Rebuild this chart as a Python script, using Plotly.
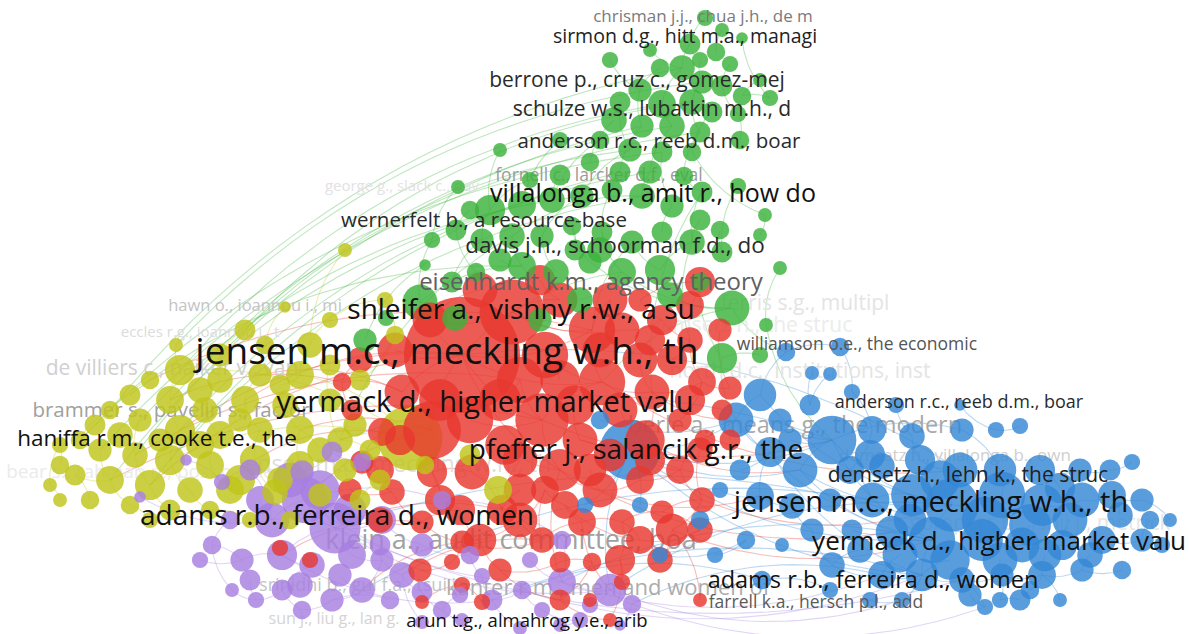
import numpy as np
import plotly.graph_objects as go

# ---- cluster colours ----
COLORS = {
    "g": "#3cb23c",
    "r": "#e8382f",
    "b": "#3588d6",
    "y": "#bfc41a",
    "p": "#a77fe0",
}

# ---- node layout (x, y, weight-based diameter) per cluster ----
GREEN_NODES = [
    (705, 18, 14), (722, 30, 12), (742, 38, 10), (690, 44, 18), (716, 52, 16),
    (730, 64, 14), (770, 98, 14), (660, 68, 16), (682, 68, 22), (702, 82, 20),
    (722, 86, 18), (742, 96, 16), (640, 90, 20), (662, 104, 24), (692, 102, 22),
    (712, 112, 18), (738, 114, 14), (620, 102, 18), (614, 120, 22), (642, 126, 20),
    (672, 126, 22), (700, 132, 18), (600, 140, 16), (630, 150, 20), (662, 152, 18),
    (692, 152, 16), (500, 150, 12), (560, 140, 14), (590, 162, 16), (620, 172, 18),
    (650, 172, 20), (684, 176, 16), (458, 187, 12), (490, 210, 26), (522, 205, 24),
    (552, 200, 22), (582, 196, 20), (612, 190, 18), (642, 196, 22), (672, 206, 20),
    (702, 192, 18), (738, 186, 14), (765, 215, 12), (425, 265, 10), (432, 240, 14),
    (456, 230, 18), (482, 240, 20), (512, 236, 22), (542, 236, 20), (572, 226, 16),
    (602, 232, 18), (632, 242, 20), (662, 232, 18), (692, 242, 22), (722, 252, 18),
    (522, 266, 24), (556, 272, 22), (590, 262, 20), (622, 272, 24), (660, 270, 26),
    (700, 282, 16), (452, 282, 18), (476, 272, 16), (420, 302, 30), (732, 308, 30),
    (766, 325, 12), (365, 340, 20), (386, 318, 14), (722, 358, 26),
    (610, 60, 14), (650, 50, 12), (700, 60, 14), (760, 80, 12), (740, 140, 16),
    (560, 175, 18), (530, 180, 14), (470, 210, 16), (500, 260, 20), (580, 300, 22),
    (670, 295, 22), (600, 250, 22), (575, 250, 18), (700, 220, 18), (720, 230, 16),
    (760, 235, 12), (780, 268, 12), (455, 318, 22), (540, 320, 20), (760, 355, 14),
]

RED_NODES = [
    (462, 355, 100), (512, 312, 56), (432, 430, 50), (592, 330, 40), (602, 382, 40),
    (542, 420, 46), (645, 440, 34), (622, 330, 30), (662, 320, 26), (690, 340, 22),
    (702, 382, 24), (730, 388, 20), (652, 392, 30), (560, 470, 36), (600, 490, 30),
    (640, 480, 24), (680, 470, 24), (702, 500, 22), (662, 512, 20), (622, 522, 22),
    (582, 522, 24), (542, 540, 22), (502, 510, 26), (472, 472, 30), (432, 472, 26),
    (382, 432, 24), (362, 462, 20), (392, 492, 22), (422, 522, 20), (462, 542, 20),
    (352, 410, 18), (342, 382, 16), (402, 392, 30), (700, 282, 26), (722, 410, 18),
    (560, 562, 18), (592, 562, 16), (622, 582, 14), (462, 585, 14), (422, 602, 12),
    (482, 602, 14), (452, 562, 14), (672, 530, 28), (560, 300, 30), (640, 300, 20),
    (520, 380, 40), (580, 440, 30), (680, 420, 20), (520, 460, 30), (620, 560, 26),
    (590, 600, 12), (280, 548, 14), (310, 560, 14), (705, 440, 18),
    (395, 350, 30), (430, 320, 30), (545, 355, 40), (575, 405, 34), (640, 360, 30),
    (672, 360, 26), (620, 410, 30), (505, 445, 34), (460, 510, 26), (520, 490, 28),
    (565, 505, 24), (610, 455, 28), (545, 490, 24), (700, 450, 22), (690, 305, 24),
    (720, 330, 20), (500, 570, 20), (660, 560, 22), (640, 540, 24), (700, 530, 22),
    (380, 470, 24), (350, 490, 20), (440, 400, 36), (610, 300, 30), (540, 280, 26),
    (480, 290, 30), (730, 440, 18), (360, 360, 22), (470, 420, 40), (520, 520, 30),
    (480, 540, 28), (560, 600, 18), (400, 440, 26), (440, 500, 26), (590, 470, 28),
    (650, 460, 26), (690, 400, 26), (500, 400, 36), (560, 380, 34), (600, 350, 30),
    (650, 340, 26), (380, 520, 22), (420, 570, 20), (610, 620, 12), (700, 600, 12),
]

BLUE_NODES = [
    (786, 352, 16), (840, 347, 16), (812, 373, 12), (830, 374, 12), (760, 395, 28),
    (736, 420, 30), (780, 420, 20), (810, 405, 18), (852, 392, 14), (896, 405, 14),
    (960, 405, 10), (832, 440, 42), (872, 430, 24), (912, 436, 22), (962, 430, 20),
    (996, 430, 14), (1020, 426, 14), (770, 452, 26), (800, 470, 30), (850, 470, 24),
    (882, 466, 22), (920, 460, 26), (960, 470, 30), (1000, 470, 28), (1040, 470, 26),
    (1080, 470, 20), (1110, 470, 18), (1132, 462, 14), (760, 496, 24), (792, 506, 22),
    (830, 500, 20), (872, 500, 30), (912, 495, 36), (952, 505, 46), (1002, 495, 40),
    (1042, 505, 36), (1082, 500, 30), (1112, 495, 24), (1142, 500, 20), (812, 530, 20),
    (852, 530, 18), (892, 532, 28), (932, 540, 40), (982, 540, 36), (1022, 545, 30),
    (1062, 545, 26), (1102, 540, 24), (1142, 540, 20), (1162, 545, 14), (746, 540, 16),
    (782, 545, 12), (832, 565, 22), (882, 575, 24), (922, 575, 28), (962, 580, 22),
    (1002, 575, 20), (1042, 575, 24), (1082, 570, 20), (1122, 570, 16), (762, 580, 16),
    (902, 600, 14), (1000, 600, 14), (1060, 600, 12), (660, 555, 14), (715, 555, 14),
    (585, 505, 14), (640, 505, 14), (630, 450, 52), (600, 420, 16), (1170, 520, 12),
    (985, 607, 14), (1030, 590, 16),
    (940, 480, 34), (985, 520, 40), (1030, 525, 36), (1070, 520, 30), (900, 555, 30),
    (950, 560, 34), (1000, 560, 30), (1045, 555, 28), (1090, 555, 22), (860, 550, 22),
    (970, 595, 20), (1020, 600, 18), (910, 520, 28), (1120, 515, 22), (1150, 520, 16),
    (870, 600, 14), (830, 590, 14), (700, 520, 16), (740, 470, 18), (790, 440, 20),
    (720, 490, 14), (870, 455, 26), (1060, 488, 26),
]

PURPLE_NODES = [
    (305, 500, 40), (335, 528, 44), (272, 520, 30), (250, 470, 18), (222, 482, 14),
    (186, 460, 10), (140, 497, 10), (212, 545, 16), (242, 560, 20), (282, 555, 26),
    (312, 565, 22), (282, 590, 18), (302, 610, 16), (332, 600, 20), (362, 590, 22),
    (352, 555, 24), (382, 560, 20), (402, 575, 22), (422, 592, 18), (442, 610, 16),
    (462, 620, 12), (492, 600, 18), (522, 590, 16), (542, 610, 14), (562, 582, 24),
    (580, 620, 14), (610, 590, 28), (632, 604, 16), (470, 555, 16), (562, 540, 16),
    (422, 545, 20), (442, 500, 16), (382, 520, 24), (256, 600, 14), (232, 590, 12),
    (332, 452, 18), (302, 472, 20), (362, 462, 16), (422, 622, 12), (482, 576, 14),
    (520, 628, 12),
    (290, 480, 30), (320, 490, 34), (260, 500, 24), (350, 510, 28), (230, 520, 16),
    (200, 560, 14), (250, 580, 18), (300, 585, 22), (340, 575, 20), (390, 600, 16),
    (460, 595, 14), (380, 545, 18), (530, 560, 14), (590, 605, 14), (560, 625, 12),
    (620, 625, 10),
]

YELLOW_NODES = [
    (345, 250, 12), (285, 307, 10), (245, 330, 18), (176, 345, 12), (220, 355, 20),
    (265, 345, 16), (310, 345, 22), (300, 375, 24), (260, 375, 20), (220, 380, 22),
    (180, 370, 26), (150, 380, 16), (130, 395, 18), (170, 400, 24), (205, 410, 22),
    (245, 400, 24), (285, 405, 22), (330, 400, 20), (110, 410, 16), (140, 420, 20),
    (180, 430, 26), (220, 435, 24), (260, 430, 22), (300, 430, 24), (340, 440, 22),
    (80, 440, 16), (60, 445, 14), (100, 450, 20), (135, 455, 22), (170, 460, 26),
    (210, 465, 24), (255, 460, 26), (300, 465, 24), (345, 470, 20), (50, 485, 12),
    (75, 475, 18), (110, 480, 24), (150, 485, 26), (190, 490, 22), (230, 490, 24),
    (275, 492, 22), (320, 495, 20), (360, 500, 18), (130, 505, 16), (170, 510, 18),
    (210, 510, 16), (498, 490, 24), (470, 455, 18), (425, 465, 16), (395, 335, 16),
    (385, 300, 14), (330, 320, 14), (410, 438, 56),
    (95, 425, 18), (60, 465, 16), (120, 435, 22), (200, 445, 24), (240, 480, 26),
    (280, 480, 22), (320, 450, 22), (355, 425, 20), (370, 450, 18), (380, 480, 18),
    (90, 500, 16), (150, 520, 14), (250, 520, 14), (290, 520, 16), (200, 390, 22),
    (240, 420, 20), (280, 385, 18), (330, 365, 18), (360, 380, 18), (160, 440, 20),
    (60, 500, 12),
]

NODES = {"g": GREEN_NODES, "r": RED_NODES, "b": BLUE_NODES,
         "p": PURPLE_NODES, "y": YELLOW_NODES}

# ---- links inside each cluster (index pairs) ----
GREEN_LINKS = [
    (3, 8), (8, 13), (13, 20), (20, 30), (30, 38), (38, 47), (47, 55), (55, 63),
    (12, 19), (19, 29), (29, 37), (37, 50), (50, 58), (58, 64), (7, 12), (9, 14),
    (14, 21), (21, 31), (31, 40), (40, 53), (53, 59), (17, 23), (23, 36), (36, 48),
    (48, 56), (26, 33), (33, 46), (46, 61), (0, 3), (5, 10), (10, 16), (6, 11),
    (27, 34), (22, 35), (24, 39), (39, 52), (41, 54), (2, 6), (18, 28), (1, 4),
    (44, 63), (45, 62), (32, 44), (15, 25), (25, 42), (57, 64), (60, 68), (49, 57),
    (51, 59), (43, 66), (69, 12), (70, 8), (71, 9), (72, 11), (73, 16), (74, 35),
    (75, 33), (76, 45), (77, 55), (78, 58), (79, 64), (80, 50), (81, 49), (82, 53),
    (83, 54), (84, 42), (85, 65), (86, 63), (87, 55), (88, 68),
]
RED_LINKS = [
    (0, 1), (0, 2), (0, 3), (0, 4), (0, 5), (0, 13), (1, 3), (1, 7), (3, 4), (4, 5),
    (5, 13), (13, 14), (14, 15), (15, 16), (16, 17), (17, 18), (18, 19), (19, 20),
    (20, 21), (21, 22), (22, 23), (23, 24), (24, 2), (2, 25), (25, 26), (26, 27),
    (27, 28), (28, 29), (29, 21), (6, 12), (12, 10), (10, 11), (7, 8), (8, 9),
    (9, 10), (4, 12), (6, 15), (45, 5), (46, 6), (48, 22), (49, 19), (42, 17),
    (0, 32), (32, 31), (31, 30), (43, 1), (44, 8), (33, 44), (36, 35), (37, 49),
    (38, 39), (40, 38), (41, 29), (47, 10), (53, 16),
    (54, 0), (55, 1), (56, 4), (57, 46), (58, 12), (59, 9), (60, 6), (61, 13),
    (62, 28), (63, 22), (64, 20), (65, 46), (66, 21), (67, 17), (68, 33), (69, 11),
    (70, 35), (71, 42), (72, 19), (73, 18), (74, 26), (75, 27), (76, 2), (77, 3),
    (78, 43), (79, 55), (80, 34), (81, 31), (82, 5), (83, 21), (84, 29), (85, 36),
    (86, 25), (87, 24), (88, 14), (89, 16), (90, 10), (91, 45), (92, 56), (93, 77),
    (94, 58), (95, 28), (96, 41), (97, 49), (98, 42), (24, 62), (62, 84), (84, 70),
    (70, 85), (85, 97), (29, 83), (83, 66), (66, 64), (64, 72), (72, 73), (73, 71),
]
BLUE_LINKS = [
    (11, 33), (11, 18), (18, 33), (33, 42), (42, 53), (33, 34), (34, 23), (23, 14),
    (14, 11), (32, 31), (31, 19), (19, 12), (12, 8), (8, 1), (1, 0), (0, 4), (4, 5),
    (5, 17), (17, 28), (28, 29), (29, 39), (39, 51), (51, 52), (52, 53), (53, 54),
    (54, 55), (55, 56), (56, 57), (57, 58), (44, 45), (45, 46), (46, 47), (35, 36),
    (36, 37), (37, 38), (24, 25), (25, 26), (26, 27), (21, 22), (22, 33), (13, 21),
    (9, 13), (10, 15), (15, 16), (41, 42), (43, 44), (40, 41), (2, 7), (3, 7),
    (6, 11), (60, 53), (61, 55), (62, 56), (67, 11), (67, 18), (67, 5), (65, 67),
    (66, 67), (63, 49), (64, 49), (68, 5), (69, 38), (70, 54), (71, 56),
    (72, 33), (73, 43), (74, 44), (75, 45), (76, 52), (77, 53), (78, 55), (79, 56),
    (80, 57), (81, 51), (82, 70), (83, 61), (84, 32), (85, 37), (86, 47), (87, 60),
    (88, 59), (89, 28), (90, 17), (91, 11), (92, 28), (93, 20), (94, 24),
    (11, 42), (18, 42), (4, 33), (5, 42), (17, 53), (67, 53), (67, 42),
]
PURPLE_LINKS = [
    (0, 1), (0, 2), (1, 2), (2, 3), (3, 4), (4, 5), (0, 36), (36, 35), (35, 37),
    (1, 15), (15, 16), (16, 17), (17, 18), (18, 19), (19, 20), (1, 9), (9, 10),
    (10, 11), (11, 12), (12, 13), (13, 14), (14, 16), (9, 8), (8, 7), (7, 34),
    (34, 33), (33, 11), (1, 32), (32, 30), (30, 28), (28, 39), (39, 21), (21, 22),
    (22, 23), (23, 25), (24, 26), (26, 27), (24, 29), (29, 31), (31, 0), (6, 2),
    (17, 38), (21, 40), (41, 3), (42, 1), (43, 2), (44, 32), (45, 7), (46, 8),
    (47, 33), (48, 11), (49, 14), (50, 13), (51, 19), (52, 16), (53, 24), (54, 26),
    (55, 25), (56, 27), (1, 26), (0, 24), (9, 21),
]
YELLOW_LINKS = [
    (0, 6), (1, 5), (2, 4), (3, 10), (4, 9), (5, 8), (6, 7), (7, 16), (8, 15),
    (9, 14), (10, 13), (11, 12), (12, 18), (13, 20), (14, 21), (15, 22), (16, 23),
    (17, 24), (18, 25), (19, 28), (20, 29), (21, 30), (22, 31), (23, 32), (24, 33),
    (25, 27), (26, 34), (27, 36), (28, 37), (29, 38), (30, 39), (31, 40), (32, 41),
    (33, 42), (35, 36), (36, 43), (37, 44), (38, 45), (52, 24), (52, 48), (47, 46),
    (49, 50), (50, 51), (51, 6), (52, 33), (53, 18), (54, 26), (55, 19), (56, 21),
    (57, 39), (58, 40), (59, 23), (60, 17), (61, 24), (62, 42), (63, 35), (64, 43),
    (65, 45), (66, 41), (67, 9), (68, 15), (69, 7), (70, 17), (71, 49), (72, 20),
    (73, 34), (52, 7), (52, 10), (52, 29),
]

# ---- links between clusters ----
CROSS_LINKS = [
    ("g", 13, "y", 10), ("g", 20, "y", 13), ("g", 30, "y", 20), ("g", 19, "y", 28),
    ("g", 23, "y", 4), ("g", 38, "y", 29), ("g", 34, "y", 36), ("g", 36, "y", 19),
    ("g", 47, "y", 24), ("g", 55, "y", 12), ("g", 14, "y", 2), ("g", 29, "y", 37),
    ("g", 24, "y", 25), ("g", 9, "y", 3), ("g", 8, "y", 18), ("g", 21, "y", 27),
    ("g", 58, "r", 0), ("g", 51, "r", 3), ("g", 63, "r", 0), ("g", 64, "r", 4),
    ("g", 53, "r", 9), ("g", 40, "r", 12),
    ("g", 64, "b", 0), ("g", 68, "b", 5), ("g", 65, "b", 11),
    ("r", 0, "y", 15), ("r", 2, "y", 23), ("r", 25, "y", 31), ("r", 32, "y", 8),
    ("r", 0, "y", 20), ("r", 45, "y", 28), ("r", 31, "y", 13), ("r", 0, "y", 37),
    ("r", 5, "y", 36), ("r", 3, "y", 11),
    ("r", 5, "b", 11), ("r", 6, "b", 18), ("r", 12, "b", 5), ("r", 14, "b", 28),
    ("r", 17, "b", 33), ("r", 42, "b", 42), ("r", 4, "b", 22), ("r", 13, "b", 41),
    ("r", 13, "p", 24), ("r", 20, "p", 26), ("r", 21, "p", 17), ("r", 29, "p", 14),
    ("r", 22, "p", 1), ("r", 2, "p", 0), ("r", 28, "p", 9),
    ("b", 67, "p", 26), ("b", 33, "p", 26), ("b", 42, "p", 24), ("b", 53, "p", 21),
    ("b", 31, "p", 14), ("b", 52, "p", 27), ("b", 11, "y", 24), ("b", 59, "p", 22),
    ("b", 43, "p", 1), ("b", 22, "r", 0),
    ("p", 26, "b", 60), ("p", 24, "b", 52), ("p", 27, "b", 70), ("p", 22, "b", 53),
    ("p", 1, "b", 54),
    ("y", 52, "r", 2), ("y", 46, "r", 22), ("y", 47, "r", 23), ("y", 33, "p", 0),
    ("y", 42, "p", 1),
]

# ---- item labels: text, centre x, centre y, font size, grey tone ----
LABEL_TEXT = [
    "chrisman j.j., chua j.h., de m", "sirmon d.g., hitt m.a., managi",
    "berrone p., cruz c., gomez-mej", "schulze w.s., lubatkin m.h., d",
    "anderson r.c., reeb d.m., boar", "fornell c., larcker d.f., eval",
    "george g., slack c., dav", "villalonga b., amit r., how do",
    "wernerfelt b., a resource-base", "davis j.h., schoorman f.d., do",
    "eisenhardt k.m., agency theory", "shleifer a., vishny r.w., a su",
    "hawn o., ioannou i., mi", "eccles r.g., ioannou i., t",
    "jensen m.c., meckling w.h., th", "de villiers c., naiker v., van",
    "williamson o.e., the economic", "ferris s.g., multipl",
    "demsetz h., the struc", "north d.c., institutions, inst",
    "yermack d., higher market valu", "brammer s., pavelin s., factor",
    "anderson r.c., reeb d.m., boar", "haniffa r.m., cooke t.e., the",
    "berle a., means g., the modern", "pfeffer j., salancik g.r., the",
    "demsetz h., villalonga b., own", "bear s., rahman n., post c., the",
    "jensen m.c., meckling w.h., th", "demsetz h., lehn k., the struc",
    "jensen m.c., meckling w.h., th", "adams r.b., ferreira d., women",
    "gompers p., ishii j., metrick", "yermack d., higher market valu",
    "klein a., audit committee, boa", "kanter r.m., men and women of",
    "srinidhi b., gul f.a., tsui j.", "adams r.b., ferreira d., women",
    "farrell k.a., hersch p.l., add", "sun j., liu g., lan g.",
    "arun t.g., almahrog y.e., arib",
]
LABEL_X = [
    703, 685, 637, 652, 659, 599, 402, 653, 484, 615,
    591, 521, 255, 200, 447, 172, 857, 805, 750, 800,
    485, 171, 959, 157, 795, 636, 955, 140, 395, 968,
    931, 337, 1040, 999, 511, 608, 360, 873, 816, 334,
    527,
]
LABEL_Y = [
    18, 38, 82, 111, 143, 177, 187, 196, 222, 247,
    284, 312, 307, 333, 355, 370, 346, 305, 327, 373,
    405, 412, 403, 440, 427, 452, 457, 473, 466, 477,
    505, 518, 525, 543, 542, 589, 586, 582, 604, 620,
    622,
]
LABEL_SIZE = [
    17, 19.5, 21, 21, 20.5, 17.5, 15, 25, 20.5, 22.5,
    24, 28, 16.5, 15, 37, 21, 17.5, 21, 21, 21,
    29, 20.5, 18, 22.5, 23.5, 28, 17, 19, 23, 21,
    29, 28, 21, 26, 27, 22, 18, 23.5, 17.5, 16,
    18.5,
]
LABEL_COLOR = [
    "#7a7a7a", "#222222", "#2a2a2a", "#2a2a2a", "#2a2a2a", "#9a9a9a", "#e2e2e2",
    "#111111", "#2a2a2a", "#2a2a2a", "#606060", "#111111", "#c4c4c4", "#dcdcdc",
    "#111111", "#d0d0d0", "#555555", "#e4e4e4", "#ececec", "#e4e4e4", "#111111",
    "#a0a0a0", "#2a2a2a", "#111111", "#a8a8a8", "#111111", "#cfcfcf", "#ebebeb",
    "#dedede", "#222222", "#111111", "#111111", "#e6e6e6", "#111111", "#a0a0a0",
    "#acacac", "#c4c4c4", "#111111", "#5a5a5a", "#d4d4d4", "#111111",
]

NODE_SCALE = 1.16
NODE_ALPHA = 0.82


def hex_rgba(h, a):
    h = h.lstrip("#")
    r, g, b = int(h[0:2], 16), int(h[2:4], 16), int(h[4:6], 16)
    return f"rgba({r},{g},{b},{a})"


def curve(p0, p1, bend=0.18, n=24):
    """Quadratic Bezier arc between two node centres."""
    p0 = np.asarray(p0, float)
    p1 = np.asarray(p1, float)
    d = p1 - p0
    ctrl = (p0 + p1) / 2 + bend * np.array([-d[1], d[0]])
    t = np.linspace(0, 1, n)[:, None]
    return (1 - t) ** 2 * p0 + 2 * (1 - t) * t * ctrl + t ** 2 * p1


def label_trace(idx):
    return go.Scatter(
        x=[LABEL_X[i] for i in idx], y=[LABEL_Y[i] for i in idx],
        text=[LABEL_TEXT[i] for i in idx], mode="text",
        textposition="middle center", hoverinfo="skip",
        textfont=dict(family="Open Sans",
                      size=[LABEL_SIZE[i] for i in idx],
                      color=[LABEL_COLOR[i] for i in idx]),
    )


fig = go.Figure()

# links, grouped by colour of the source cluster
link_sets = {k: [] for k in COLORS}
for key, links in (("g", GREEN_LINKS), ("r", RED_LINKS), ("b", BLUE_LINKS),
                   ("p", PURPLE_LINKS), ("y", YELLOW_LINKS)):
    for i, j in links:
        link_sets[key].append((NODES[key][i][:2], NODES[key][j][:2]))
for ca, i, cb, j in CROSS_LINKS:
    link_sets[ca].append((NODES[ca][i][:2], NODES[cb][j][:2]))

for key in ("y", "p", "b", "r", "g"):
    xs, ys = [], []
    for a, b in link_sets[key]:
        pts = curve(a, b)
        xs.extend(pts[:, 0].tolist() + [None])
        ys.extend(pts[:, 1].tolist() + [None])
    fig.add_trace(go.Scatter(
        x=xs, y=ys, mode="lines", hoverinfo="skip",
        line=dict(color=hex_rgba(COLORS[key], 0.33), width=1.1),
    ))

# pale (less cited) labels sit beneath the circles, darker ones above
dark = [i for i, c in enumerate(LABEL_COLOR) if int(c[1:3], 16) < 0x80]
pale = [i for i in range(len(LABEL_TEXT)) if i not in dark]
fig.add_trace(label_trace(pale))

# nodes: larger circles first so small ones stay visible on top
all_nodes = []
for key, nodes in NODES.items():
    for x, y, s in nodes:
        all_nodes.append((s, x, y, COLORS[key]))
all_nodes.sort(key=lambda n: -n[0])

fig.add_trace(go.Scatter(
    x=[n[1] for n in all_nodes],
    y=[n[2] for n in all_nodes],
    mode="markers",
    hoverinfo="skip",
    marker=dict(
        size=[n[0] * NODE_SCALE for n in all_nodes],
        color=[hex_rgba(n[3], NODE_ALPHA) for n in all_nodes],
        opacity=1,
        line=dict(width=0),
    ),
))

fig.add_trace(label_trace(dark))

fig.update_layout(
    width=1189, height=634,
    margin=dict(l=0, r=0, t=0, b=0),
    paper_bgcolor="white", plot_bgcolor="white",
    showlegend=False,
    xaxis=dict(range=[0, 1189], visible=False, fixedrange=True),
    yaxis=dict(range=[634, 0], visible=False, fixedrange=True),
)

fig.write_html("out.html")
